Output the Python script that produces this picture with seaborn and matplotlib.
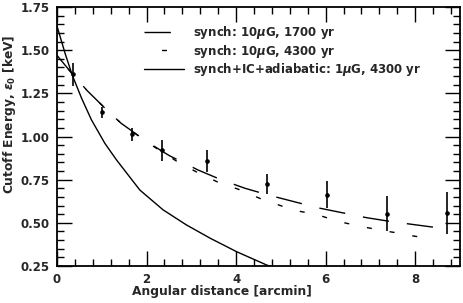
import numpy as np
import pandas as pd
import matplotlib
matplotlib.use("Agg")
import matplotlib.pyplot as plt
import seaborn as sns

# data
obs_x = [0.35, 1.00, 1.68, 2.35, 3.36, 4.69, 6.02, 7.37, 8.71]
obs_y = [1.36, 1.14, 1.013, 0.92, 0.86, 0.725, 0.662, 0.554, 0.559]
obs_err = [0.065, 0.033, 0.038, 0.06, 0.063, 0.058, 0.078, 0.103, 0.122]

# synch 10uG, 1700 yr (long dashes)
m1700_x = [0.0, 0.35, 0.68, 1.15, 1.43, 2.04, 2.51, 3.15, 3.68, 4.2, 4.72, 5.81, 6.36, 6.91, 7.47, 8.43]
m1700_y = [1.47, 1.36, 1.264, 1.144, 1.077, 0.964, 0.889, 0.806, 0.748, 0.70, 0.661, 0.588, 0.559, 0.53, 0.507, 0.474]

# synch 10uG, 4300 yr (short dashes)
m4300_x = [0.0, 0.35, 0.68, 1.15, 1.43, 2.04, 2.69, 3.17, 3.6, 4.1, 4.58, 5.07, 5.25, 5.8, 6.3, 6.81, 7.32, 7.57, 7.9, 8.43]
m4300_y = [1.47, 1.36, 1.264, 1.144, 1.077, 0.962, 0.854, 0.787, 0.735, 0.69, 0.636, 0.593, 0.575, 0.548, 0.507, 0.478, 0.453, 0.443, 0.426, 0.405]

# synch+IC+adiabatic 1uG, 4300 yr (solid)
mic_x = [0.0, 0.18, 0.34, 0.55, 0.77, 1.07, 1.33, 1.85, 2.37, 2.89, 3.42, 4.01, 4.68, 4.8]
mic_y = [1.64, 1.482, 1.356, 1.221, 1.096, 0.96, 0.864, 0.69, 0.575, 0.488, 0.411, 0.333, 0.256, 0.245]

labels = ["synch: 10$\\mu$G, 1700 yr",
          "synch: 10$\\mu$G, 4300 yr",
          "synch+IC+adiabatic: 1$\\mu$G, 4300 yr"]

sns.set_style("ticks")
plt.rcParams["font.family"] = ["DejaVu Sans"]
plt.rcParams["font.weight"] = "bold"
plt.rcParams["mathtext.fontset"] = "dejavusans"
plt.rcParams["lines.scale_dashes"] = False

fig = plt.figure(figsize=(4.63, 3.03), dpi=100)
ax = fig.add_axes([0.1231, 0.1221, 0.8704, 0.8548])

lw = 1.0
sns.lineplot(x=m1700_x, y=m1700_y, ax=ax, color="black", lw=lw, sort=False,
             linestyle=(0, (19, 13)), label=labels[0])
sns.lineplot(x=m4300_x, y=m4300_y, ax=ax, color="black", lw=lw, sort=False,
             linestyle=(4, (3.6, 13)), label=labels[1])
sns.lineplot(x=mic_x, y=mic_y, ax=ax, color="black", lw=lw, sort=False,
             label=labels[2])

ax.errorbar(obs_x, obs_y, yerr=obs_err, fmt="none", ecolor="black",
            elinewidth=1.2, capsize=0)
sns.scatterplot(x=obs_x, y=obs_y, ax=ax, color="black", s=11,
                edgecolor="black", linewidth=0, zorder=5)

ax.set_xlim(0, 9)
ax.set_ylim(0.25, 1.75)
ax.set_xticks([0, 2, 4, 6, 8])
ax.set_xticks(np.arange(0, 9.01, 0.4), minor=True)
ax.set_yticks(np.arange(0.25, 1.76, 0.25))
ax.set_yticks(np.arange(0.25, 1.751, 0.05), minor=True)
ax.yaxis.set_major_formatter(matplotlib.ticker.FormatStrFormatter("%.2f"))

ax.tick_params(which="both", direction="in", top=True, right=True,
               labelsize=8.5, width=1.0, color="black")
ax.tick_params(which="major", length=11, pad=5)
ax.tick_params(which="minor", length=5)
for lab in ax.get_xticklabels() + ax.get_yticklabels():
    lab.set_fontweight("bold")
for sp in ax.spines.values():
    sp.set_visible(True)
    sp.set_linewidth(1.3)
    sp.set_color("black")

ax.set_xlabel("Angular distance [arcmin]", fontsize=8.8, fontweight="bold")
ax.set_ylabel("Cutoff Energy, $\\epsilon_0$ [keV]", fontsize=8.8, fontweight="bold")
ax.xaxis.set_label_coords(0.41, -0.072)
ax.yaxis.set_label_coords(-0.097, 0.585)

leg = ax.legend(loc="upper left", bbox_to_anchor=(0.215, 0.935), frameon=False,
                fontsize=8.5, handlelength=3.4, handletextpad=0.8,
                labelspacing=0.15, borderpad=0, borderaxespad=0)
for t in leg.get_texts():
    t.set_fontweight("bold")

fig.savefig("out.png", dpi=100)
